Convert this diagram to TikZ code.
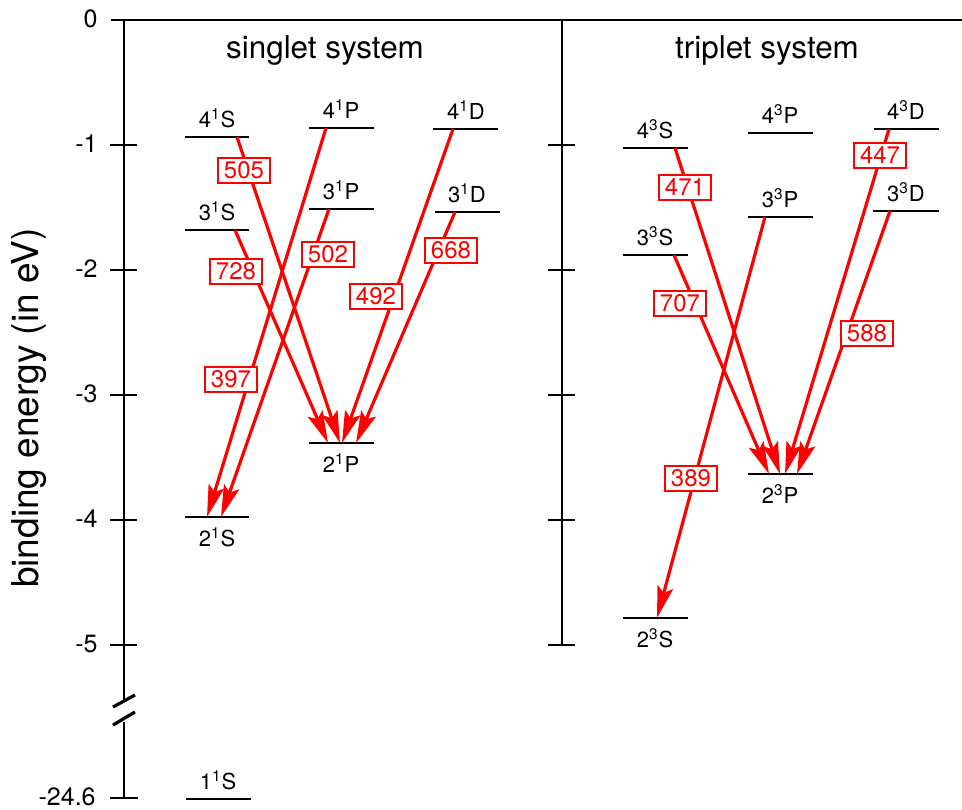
\documentclass[tikz,border=0pt]{standalone}
\usepackage{fontspec}
\setmainfont{TeX Gyre Heros}
\usetikzlibrary{arrows.meta}
\begin{document}
\begin{tikzpicture}[x=0.5pt,y=-0.5pt,
  axis/.style={line width=1.4pt},
  lvl/.style={line width=1.4pt},
  trans/.style={red, line width=1.6pt, -{Stealth[length=16pt,width=8pt,inset=3pt]}},
  wl/.style={draw=red, text=red, line width=1pt, fill=white, minimum width=26pt, minimum height=12.5pt, inner sep=0pt, font=\fontsize{12}{13}\selectfont},
  lab/.style={font=\fontsize{11}{12}\selectfont, inner sep=0pt, anchor=base},
  ticklab/.style={font=\fontsize{12.5}{14}\selectfont, anchor=east, inner sep=0pt},
  ttl/.style={font=\fontsize{15.7}{17}\selectfont, inner sep=0pt},
  ylabsty/.style={font=\fontsize{18.5}{20}\selectfont, inner sep=0pt},
]
\useasboundingbox (0,0) rectangle (962,809);

% ---------- axes ----------
\draw[axis] (111,20) -- (962,20);
\draw[axis] (124,20) -- (124,700);
\draw[axis] (124,722) -- (124,798);
\foreach \yy in {145,270,395,520,645} \draw[axis] (110,\yy) -- (137,\yy);
\draw[axis] (110,798) -- (138,798);
\draw[line width=1.6pt] (113,707) -- (135,695);
\draw[line width=1.6pt] (113,725) -- (135,712);

\draw[axis] (562,20) -- (562,645);
\foreach \yy in {145,270,395,520,645} \draw[axis] (548,\yy) -- (575,\yy);

\node[ticklab] (t0) at (98,19) {0};
\node[ticklab] (t1) at (98,144) {-1};
\node[ticklab] (t2) at (98,269) {-2};
\node[ticklab] (t3) at (98,394) {-3};
\node[ticklab] (t4) at (98,519) {-4};
\node[ticklab] (t5) at (98,644) {-5};
\node[ticklab] (t246) at (96,797) {-24.6};

\node[ylabsty, rotate=90] (ylab) at (29,408) {binding energy (in eV)};
\node[ttl] (sing) at (325,50) {singlet system};
\node[ttl] (trip) at (767,50) {triplet system};

% ---------- singlet levels ----------
\draw[lvl] (185,137) -- (249,137); \node[lab] (n41S) at (217,127) {4\textsuperscript{1}S};
\draw[lvl] (185,230) -- (249,230); \node[lab] (n31S) at (217,220) {3\textsuperscript{1}S};
\draw[lvl] (309,128) -- (374,128); \node[lab] (n41P) at (341,118) {4\textsuperscript{1}P};
\draw[lvl] (309,209) -- (374,209); \node[lab] (n31P) at (341,199) {3\textsuperscript{1}P};
\draw[lvl] (433,129) -- (498,129); \node[lab] (n41D) at (466,119) {4\textsuperscript{1}D};
\draw[lvl] (435,212) -- (500,212); \node[lab] (n31D) at (467,202) {3\textsuperscript{1}D};
\draw[lvl] (309,443) -- (374,443); \node[lab] (n21P) at (341,472) {2\textsuperscript{1}P};
\draw[lvl] (185,517) -- (249,517); \node[lab] (n21S) at (217,546) {2\textsuperscript{1}S};
\draw[lvl] (186,799) -- (251,799); \node[lab] (n11S) at (218,789) {1\textsuperscript{1}S};

% ---------- triplet levels ----------
\draw[lvl] (623,148) -- (688,148); \node[lab] (n43S) at (655,138) {4\textsuperscript{3}S};
\draw[lvl] (623,255) -- (688,255); \node[lab] (n33S) at (655,245) {3\textsuperscript{3}S};
\draw[lvl] (748,133) -- (813,133); \node[lab] (n43P) at (780,123) {4\textsuperscript{3}P};
\draw[lvl] (748,217) -- (813,217); \node[lab] (n33P) at (780,207) {3\textsuperscript{3}P};
\draw[lvl] (874,129) -- (939,129); \node[lab] (n43D) at (906,119) {4\textsuperscript{3}D};
\draw[lvl] (873,211) -- (939,211); \node[lab] (n33D) at (906,201) {3\textsuperscript{3}D};
\draw[lvl] (748,474) -- (813,474); \node[lab] (n23P) at (780,503) {2\textsuperscript{3}P};
\draw[lvl] (623,618) -- (688,618); \node[lab] (n23S) at (655,647) {2\textsuperscript{3}S};

% ---------- transition end points ----------
\coordinate (a505s) at (237,137); \coordinate (a505e) at (340,443);
\coordinate (a728s) at (235,230); \coordinate (a728e) at (328,443);
\coordinate (a397s) at (326,128); \coordinate (a397e) at (207,517);
\coordinate (a502s) at (329,209); \coordinate (a502e) at (221,517);
\coordinate (a492s) at (453,129); \coordinate (a492e) at (342,443);
\coordinate (a668s) at (455,212); \coordinate (a668e) at (356,443);
\coordinate (a471s) at (675,148); \coordinate (a471e) at (780,474);
\coordinate (a707s) at (674,255); \coordinate (a707e) at (769,474);
\coordinate (a389s) at (765,217); \coordinate (a389e) at (657,618);
\coordinate (a447s) at (889,129); \coordinate (a447e) at (785,474);
\coordinate (a588s) at (890,211); \coordinate (a588e) at (797,474);

\foreach \w in {505,728,397,502,492,668,471,707,389,447,588}
  \draw[trans] (a\w s) -- (a\w e);

% ---------- wavelength labels ----------
\node[wl] (w505) at (244,170) {505};
\node[wl] (w728) at (236,271) {728};
\node[wl] (w502) at (328,254) {502};
\node[wl] (w397) at (231,379) {397};
\node[wl] (w492) at (376,296) {492};
\node[wl] (w668) at (451,250) {668};
\node[wl] (w471) at (685,187) {471};
\node[wl] (w707) at (680,303) {707};
\node[wl] (w447) at (880,155) {447};
\node[wl] (w588) at (867,333) {588};
\node[wl] (w389) at (691,478) {389};
\end{tikzpicture}
\end{document}
